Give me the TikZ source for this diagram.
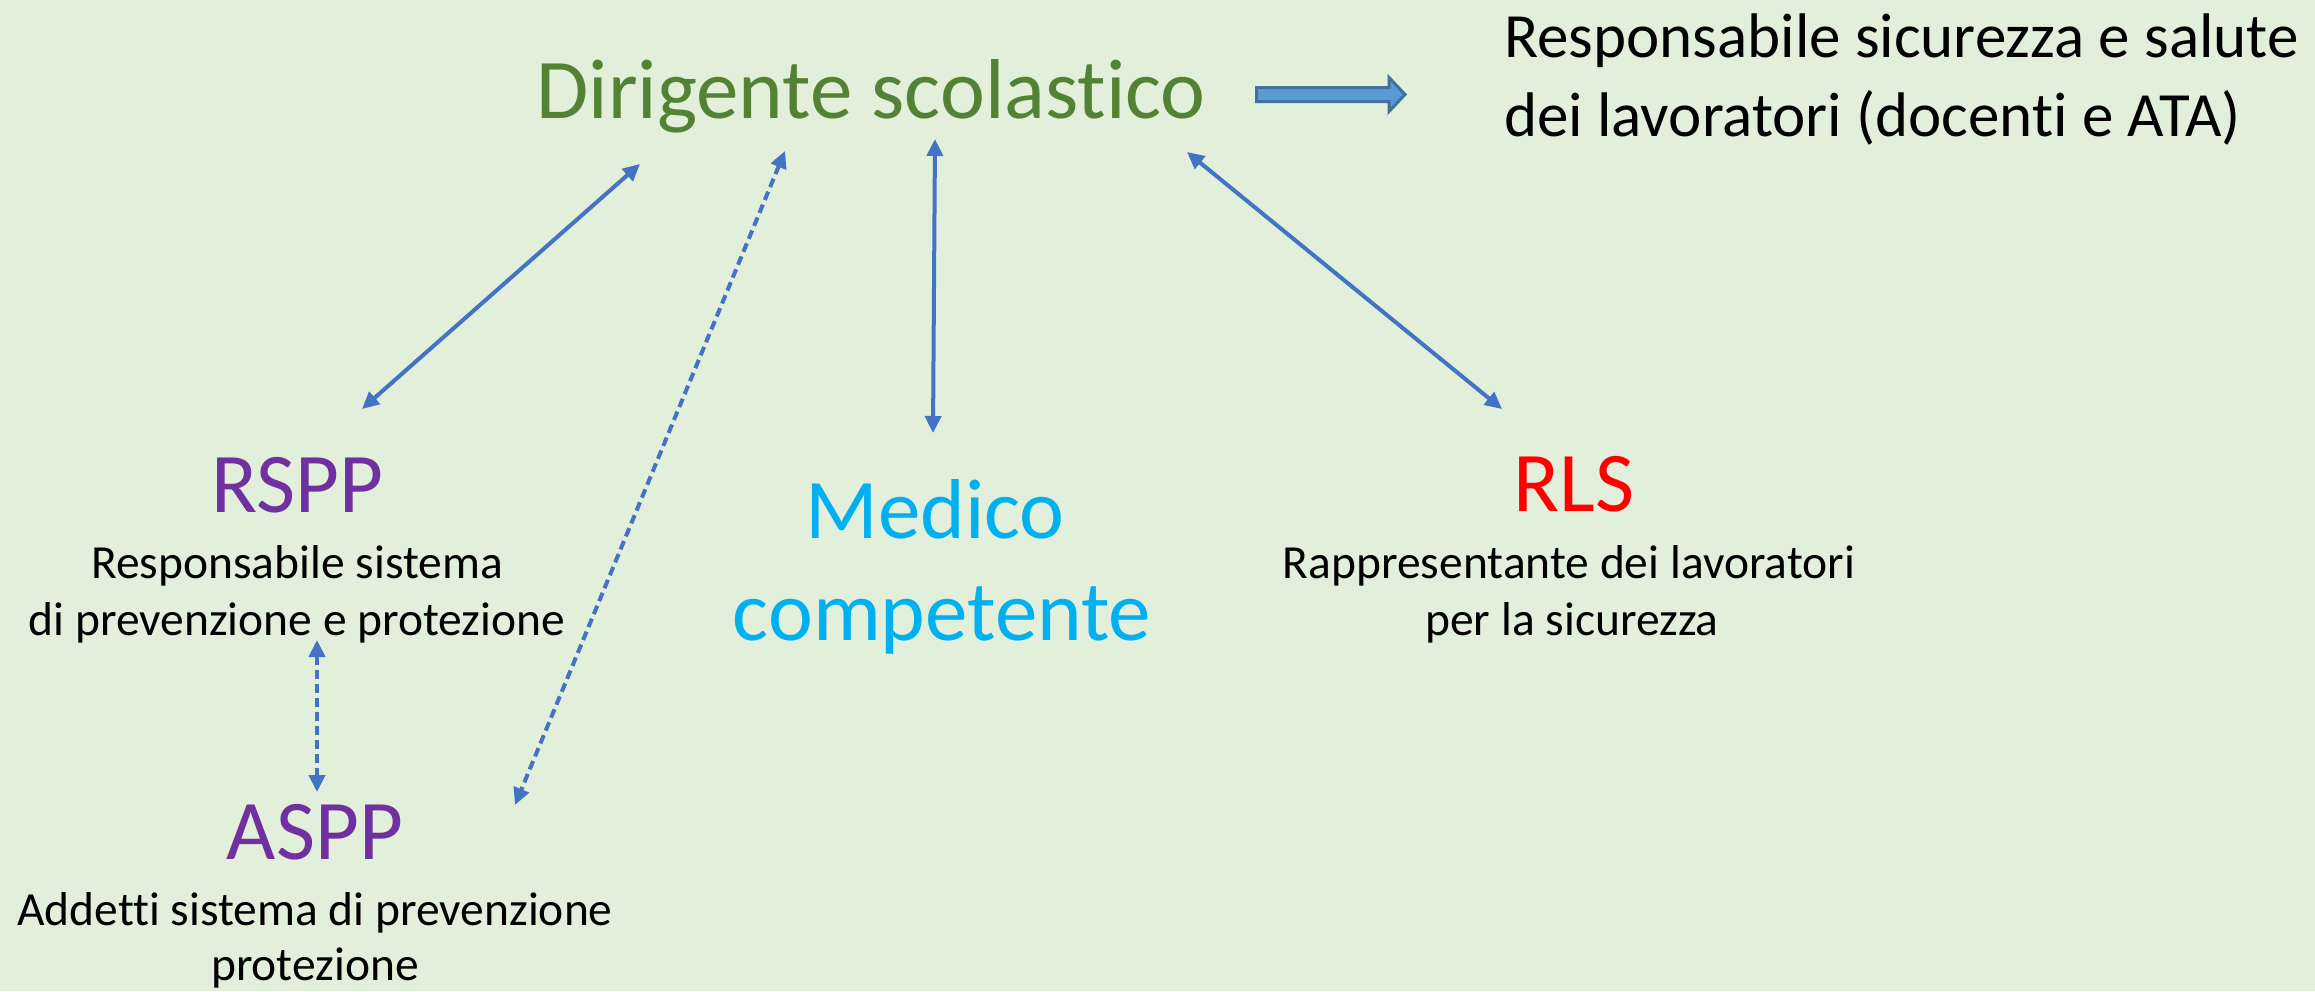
\documentclass[tikz,border=0pt]{standalone}
\usepackage{fontspec}
\setmainfont{Carlito}[Ligatures=NoCommon,RawFeature={-liga;-clig;-dlig}]
\usetikzlibrary{arrows.meta}
\definecolor{bg}{HTML}{E2EFDA}
\definecolor{dirgreen}{HTML}{548235}
\definecolor{purp}{HTML}{7030A0}
\definecolor{cyanblue}{HTML}{00B0F0}
\definecolor{rlsred}{HTML}{FF0000}
\definecolor{arrowblue}{HTML}{4472C4}
\definecolor{barfill}{HTML}{5B9BD5}
\definecolor{barstroke}{HTML}{41719C}
\begin{document}
\begin{tikzpicture}[x=1pt,y=-1pt,
  lbl/.style={inner sep=0pt, anchor=base},
  title/.style={lbl, font=\fontsize{85}{85}\selectfont},
  head/.style={lbl, anchor=base west, font=\fontsize{63}{63}\selectfont},
  desc/.style={lbl, font=\fontsize{47.5}{47.5}\selectfont},
  link/.style={draw=arrowblue, line width=4pt,
    {Triangle[length=17pt,width=16pt]}-{Triangle[length=17pt,width=16pt]}},
  dlink/.style={link, dash pattern=on 9pt off 5pt},
  blockarrow/.style={fill=barfill, draw=barstroke, line width=3pt, line join=miter}
]
\useasboundingbox (0,0) rectangle (2315,991);
\fill[bg] (0,0) rectangle (2315,991);

% texts
\node[title, text=dirgreen] (dir) at (871,118) {Dirigente scolastico};
\node[head] (resp1) at (1504,57) {Responsabile sicurezza e salute};
\node[head] (resp2) at (1504,136) {dei lavoratori (docenti e ATA)};

\node[title, text=purp] (rspp) at (297,512) {RSPP};
\node[desc] (rsppd1) at (297,578) {Responsabile sistema};
\node[desc] (rsppd2) at (297,635) {di prevenzione e protezione};

\node[title, text=purp] (aspp) at (315,859) {ASPP};
\node[desc] (asppd1) at (315,925) {Addetti sistema di prevenzione};
\node[desc] (asppd2) at (315,980) {protezione};

\node[title, text=cyanblue] (med1) at (935,538) {Medico};
\node[title, text=cyanblue] (med2) at (942,640) {competente};

\node[title, text=rlsred] (rls) at (1574,511) {RLS};
\node[desc] (rlsd1) at (1569,578) {Rappresentante dei lavoratori};
\node[desc] (rlsd2) at (1572,635) {per la sicurezza};

% connector ends
\coordinate (dirA) at (640,164);
\coordinate (rsppA) at (362,409);
\coordinate (dirB) at (935,139);
\coordinate (medB) at (933,433);
\coordinate (dirC) at (1187,152);
\coordinate (rlsC) at (1502,409);
\coordinate (dirD) at (785,151);
\coordinate (asppD) at (515,805);
\coordinate (rsppE) at (317,640);
\coordinate (asppE) at (317,792);

\draw[link] (dirA) -- (rsppA);
\draw[link] (dirB) -- (medB);
\draw[link] (dirC) -- (rlsC);
\draw[dlink] (dirD) -- (asppD);
\draw[dlink] (rsppE) -- (asppE);

% block arrow
\draw[blockarrow] (1256.5,87.5) -- (1389,87.5) -- (1389,77.5) -- (1405,94.5)
  -- (1389,111.5) -- (1389,101.5) -- (1256.5,101.5) -- cycle;
\end{tikzpicture}
\end{document}
